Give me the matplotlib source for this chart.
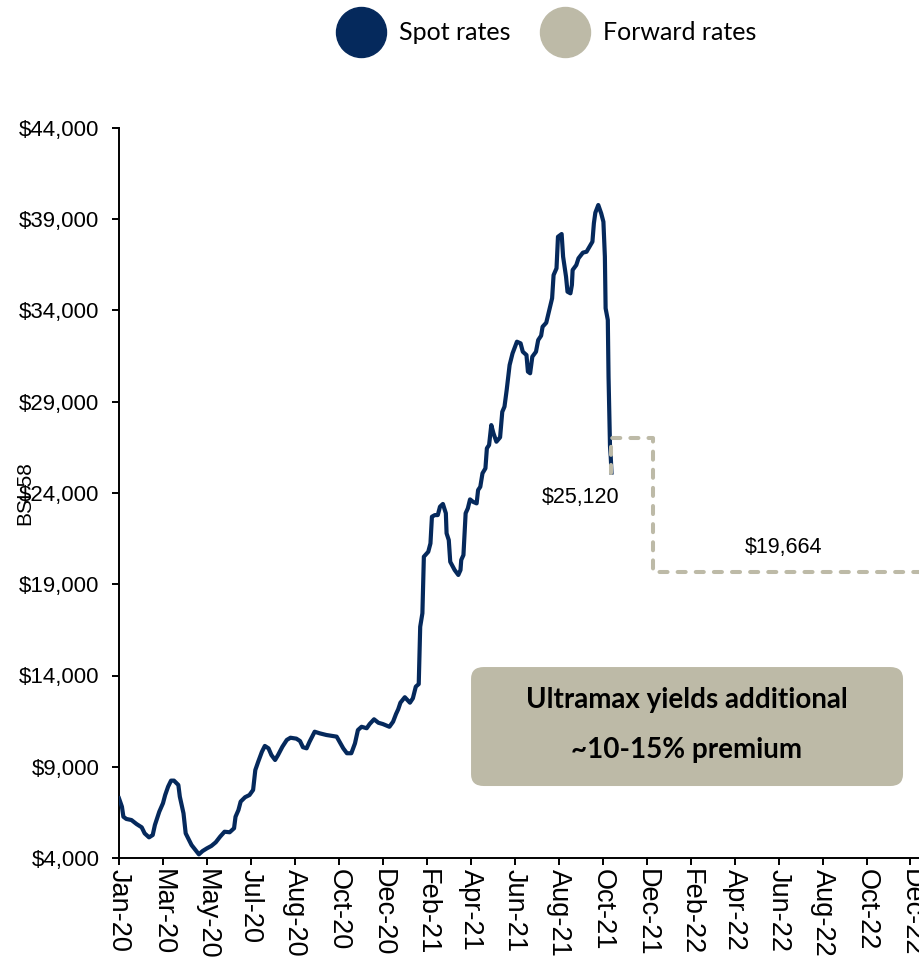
import matplotlib
matplotlib.use("Agg")
import matplotlib.pyplot as plt
import matplotlib.ticker as mticker
from matplotlib.lines import Line2D
from matplotlib.patches import FancyBboxPatch
import pandas as pd

NAVY = "#05295C"
BEIGE = "#BDBAA7"

# BSI-58 spot index ($/day)
spot_dates = [
    "2020-01-03", "2020-01-07", "2020-01-09", "2020-01-13", "2020-01-20", "2020-01-27",
    "2020-02-03", "2020-02-07", "2020-02-13", "2020-02-18", "2020-02-21", "2020-02-27",
    "2020-03-03", "2020-03-06", "2020-03-10", "2020-03-14", "2020-03-18", "2020-03-24",
    "2020-03-26", "2020-03-31", "2020-04-03", "2020-04-08", "2020-04-11", "2020-04-17",
    "2020-04-21", "2020-04-26", "2020-05-02", "2020-05-08", "2020-05-14", "2020-05-20",
    "2020-05-26", "2020-06-02", "2020-06-08", "2020-06-10", "2020-06-14", "2020-06-17",
    "2020-06-23", "2020-06-29", "2020-07-04", "2020-07-07", "2020-07-11", "2020-07-16",
    "2020-07-20", "2020-07-25", "2020-07-29", "2020-08-03", "2020-08-07", "2020-08-13",
    "2020-08-19", "2020-08-24", "2020-09-01", "2020-09-06", "2020-09-10", "2020-09-15",
    "2020-09-19", "2020-09-26", "2020-10-03", "2020-10-12", "2020-10-26", "2020-10-30",
    "2020-11-04", "2020-11-09", "2020-11-15", "2020-11-20", "2020-11-24", "2020-11-29",
    "2020-12-06", "2020-12-10", "2020-12-16", "2020-12-22", "2020-12-28", "2021-01-06",
    "2021-01-11", "2021-01-15", "2021-01-18", "2021-01-21", "2021-01-27", "2021-02-03",
    "2021-02-07", "2021-02-11", "2021-02-15", "2021-02-17", "2021-02-20", "2021-02-22",
    "2021-02-28", "2021-03-03", "2021-03-05", "2021-03-09", "2021-03-13", "2021-03-16",
    "2021-03-20", "2021-03-24", "2021-03-25", "2021-03-28", "2021-03-30", "2021-04-05",
    "2021-04-10", "2021-04-13", "2021-04-14", "2021-04-17", "2021-04-20", "2021-04-23",
    "2021-04-26", "2021-04-30", "2021-05-05", "2021-05-07", "2021-05-10", "2021-05-13",
    "2021-05-17", "2021-05-19", "2021-05-22", "2021-05-25", "2021-05-28", "2021-06-01",
    "2021-06-06", "2021-06-09", "2021-06-12", "2021-06-15", "2021-06-19", "2021-06-23",
    "2021-06-29", "2021-07-04", "2021-07-07", "2021-07-12", "2021-07-14", "2021-07-17",
    "2021-07-20", "2021-07-25", "2021-07-28", "2021-08-01", "2021-08-03", "2021-08-08",
    "2021-08-10", "2021-08-14", "2021-08-16", "2021-08-18", "2021-08-22", "2021-08-24",
    "2021-08-29", "2021-08-31", "2021-09-04", "2021-09-06", "2021-09-10", "2021-09-12",
    "2021-09-13", "2021-09-18", "2021-09-21", "2021-09-27", "2021-10-02", "2021-10-06",
    "2021-10-10", "2021-10-12", "2021-10-14", "2021-10-18", "2021-10-22", "2021-10-25",
    "2021-10-27", "2021-10-28", "2021-10-31", "2021-11-01", "2021-11-03", "2021-11-04",
    "2021-11-05",
]
spot_values = [
    7270, 6810, 6260, 6140, 6080, 5860,
    5680, 5350, 5130, 5260, 5810, 6540,
    7000, 7450, 7910, 8240, 8240, 8000,
    7360, 6450, 5350, 4950, 4710, 4400,
    4200, 4380, 4530, 4660, 4860, 5170,
    5440, 5410, 5630, 6260, 6630, 7090,
    7330, 7450, 7730, 8820, 9280, 9820,
    10140, 10010, 9640, 9370, 9640, 10100,
    10470, 10590, 10540, 10410, 10070, 10010,
    10370, 10920, 10830, 10740, 10650, 10370,
    10010, 9740, 9740, 10280, 11010, 11190,
    11110, 11340, 11600, 11410, 11340, 11190,
    11470, 11890, 12150, 12510, 12810, 12510,
    12750, 13390, 13530, 16670, 17410, 20510,
    20780, 21240, 22700, 22790, 22790, 23250,
    23400, 22890, 21790, 21420, 20230, 19780,
    19510, 19780, 20330, 20600, 22890, 23160,
    23650, 23520, 23430, 24160, 24340, 25080,
    25350, 26450, 26630, 27720, 27270, 26810,
    27050, 28450, 28730, 29640, 31010, 31650,
    32290, 32200, 31740, 31560, 30650, 30560,
    31470, 31740, 32380, 32620, 33110, 33330,
    33660, 34300, 34670, 35940, 36310, 38040,
    38190, 36950, 35850, 35030, 34940, 35400,
    36220, 36490, 36860, 37170, 37220, 37490,
    37770, 38780, 39360, 39780, 39320, 38860,
    36950, 34120, 33480, 30370, 26540, 25990,
    25120,
]

# forward curve: Q4-21 then calendar 2022
fwd_dates = ["2021-11-05", "2021-11-05", "2021-12-31", "2021-12-31", "2022-12-31"]
fwd_values = [25120, 27000, 27000, 19664, 19664]

tick_dates = pd.date_range("2020-01-03", periods=19, freq="60D")
tick_labels = ["Jan-20", "Mar-20", "May-20", "Jul-20", "Aug-20", "Oct-20", "Dec-20",
               "Feb-21", "Apr-21", "Jun-21", "Aug-21", "Oct-21", "Dec-21", "Feb-22",
               "Apr-22", "Jun-22", "Aug-22", "Oct-22", "Dec-22"]

spot_x = pd.to_datetime(spot_dates)
fwd_x = pd.to_datetime(fwd_dates)

plt.rcParams["font.family"] = ["Liberation Sans", "DejaVu Sans"]

fig = plt.figure(figsize=(9.2, 9.61), dpi=100)
ax = fig.add_axes([119 / 920, 103 / 961, 801 / 920, 730 / 961])

ax.plot(spot_x, spot_values, color=NAVY, lw=3.0, solid_joinstyle="round", zorder=3)
ax.plot(fwd_x, fwd_values, color=BEIGE, lw=2.9, dashes=(2.0, 2.5),
        dash_capstyle="round", zorder=4)

ax.annotate(f"${spot_values[-1]:,}", (spot_x[-1], spot_values[-1]),
            xytext=(-22, -18), textcoords="offset points",
            ha="center", va="center", fontsize=15.5)
mid = fwd_x[3] + (fwd_x[4] - fwd_x[3]) / 2
ax.annotate(f"${fwd_values[-1]:,}", (mid, fwd_values[-1]),
            xytext=(-2, 18), textcoords="offset points",
            ha="center", va="center", fontsize=15.5)

ax.set_xlim(pd.Timestamp("2020-01-03"), pd.Timestamp("2022-12-31"))
ax.set_ylim(4000, 44000)
ax.set_yticks(range(4000, 44001, 5000))
ax.yaxis.set_major_formatter(mticker.StrMethodFormatter("${x:,.0f}"))
ax.set_xticks(tick_dates)
ax.set_xticklabels(tick_labels, rotation=-90, ha="center", va="top")

for side in ("top", "right"):
    ax.spines[side].set_visible(False)
for side in ("left", "bottom"):
    ax.spines[side].set_linewidth(1.4)
ax.tick_params(axis="both", direction="out", length=5, width=1.4)
ax.tick_params(axis="y", pad=9, labelsize=16)
ax.tick_params(axis="x", pad=3, labelsize=19.5)

ax.set_ylabel("BSI-58", fontsize=15)
ax.yaxis.set_label_coords(-0.1062, 0.5)

# callout box
box = FancyBboxPatch((0.4395, 0.0986), 0.5393, 0.163,
                     boxstyle="round,pad=0,rounding_size=0.016",
                     transform=ax.transAxes, facecolor=BEIGE, edgecolor="none", zorder=5)
ax.add_patch(box)
ax.text(0.709, 0.2164, "Ultramax yields additional", transform=ax.transAxes,
        ha="center", va="center", fontsize=20, fontweight="bold", family="Lato", zorder=6)
ax.text(0.709, 0.148, "~10-15% premium", transform=ax.transAxes,
        ha="center", va="center", fontsize=20, fontweight="bold", family="Lato", zorder=6)

handles = [Line2D([], [], ls="none", marker="o", ms=36, color=NAVY),
           Line2D([], [], ls="none", marker="o", ms=36, color=BEIGE)]
fig.legend(handles, ["Spot rates", "Forward rates"], loc="center",
           bbox_to_anchor=(546 / 920, 1 - 33 / 961), ncol=2, frameon=False,
           prop={"family": "Lato", "size": 18}, handlelength=2.0,
           handletextpad=0.5, columnspacing=1.2)

fig.savefig("out.png", dpi=100)
